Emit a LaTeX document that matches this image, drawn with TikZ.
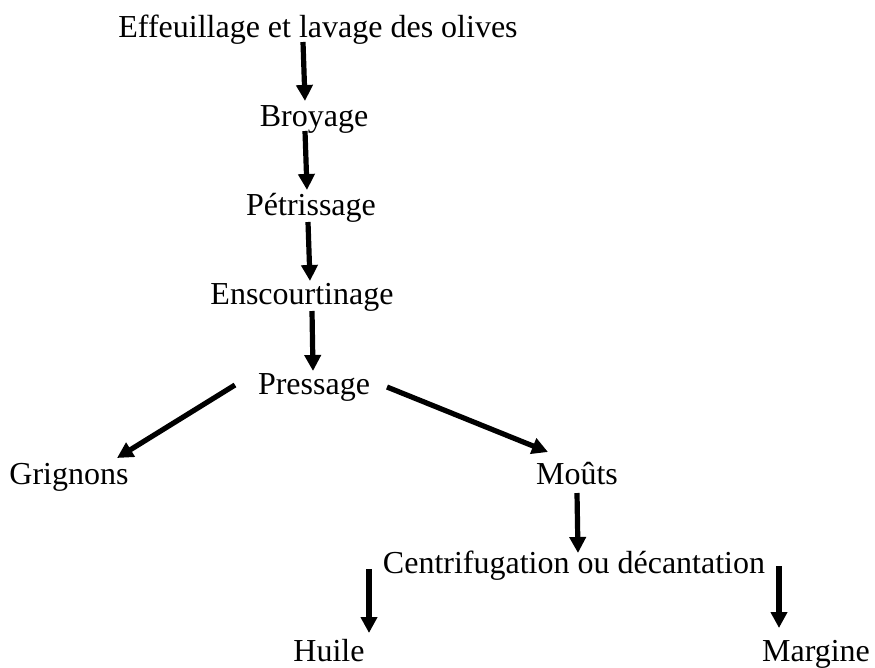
\documentclass[tikz,border=0pt]{standalone}
\usepackage{fontspec}
\setmainfont{Liberation Serif}
\usetikzlibrary{arrows.meta}
\begin{document}
\begin{tikzpicture}[x=1pt,y=-1pt,
  lbl/.style={anchor=base,inner sep=0pt,font=\fontsize{32}{36}\selectfont},
  arr/.style={line width=5.2pt,-{Triangle[length=16pt,width=16pt]}}]
\useasboundingbox (0,0) rectangle (875,667);
\node[lbl] (a) at (318,37) {Effeuillage et lavage des olives};
\node[lbl] (b) at (314,126) {Broyage};
\node[lbl] (c) at (311,215) {Pétrissage};
\node[lbl] (d) at (302,304) {Enscourtinage};
\node[lbl] (e) at (314,394) {Pressage};
\node[lbl] (f) at (69,484) {Grignons};
\node[lbl] (g) at (577,484) {Moûts};
\node[lbl] (h) at (574,573) {Centrifugation ou décantation};
\node[lbl] (i) at (329,661) {Huile};
\node[lbl] (j) at (816,661) {Margine};
\coordinate (a1) at (303,42); \coordinate (a2) at (305,101);
\coordinate (b1) at (305,131); \coordinate (b2) at (307,190);
\coordinate (c1) at (308,222); \coordinate (c2) at (310,281);
\coordinate (d1) at (312,311); \coordinate (d2) at (313,371);
\coordinate (e1) at (235,385); \coordinate (e2) at (117,458);
\coordinate (e3) at (387,387); \coordinate (e4) at (548,452);
\coordinate (g1) at (577,493); \coordinate (g2) at (578,553);
\coordinate (h1) at (369,569); \coordinate (h2) at (369,633);
\coordinate (h3) at (779,566); \coordinate (h4) at (779,628);
\draw[arr] (a1) -- (a2);
\draw[arr] (b1) -- (b2);
\draw[arr] (c1) -- (c2);
\draw[arr] (d1) -- (d2);
\draw[arr] (e1) -- (e2);
\draw[arr] (e3) -- (e4);
\draw[arr] (g1) -- (g2);
\draw[arr] (h1) -- (h2);
\draw[arr] (h3) -- (h4);
\end{tikzpicture}
\end{document}
